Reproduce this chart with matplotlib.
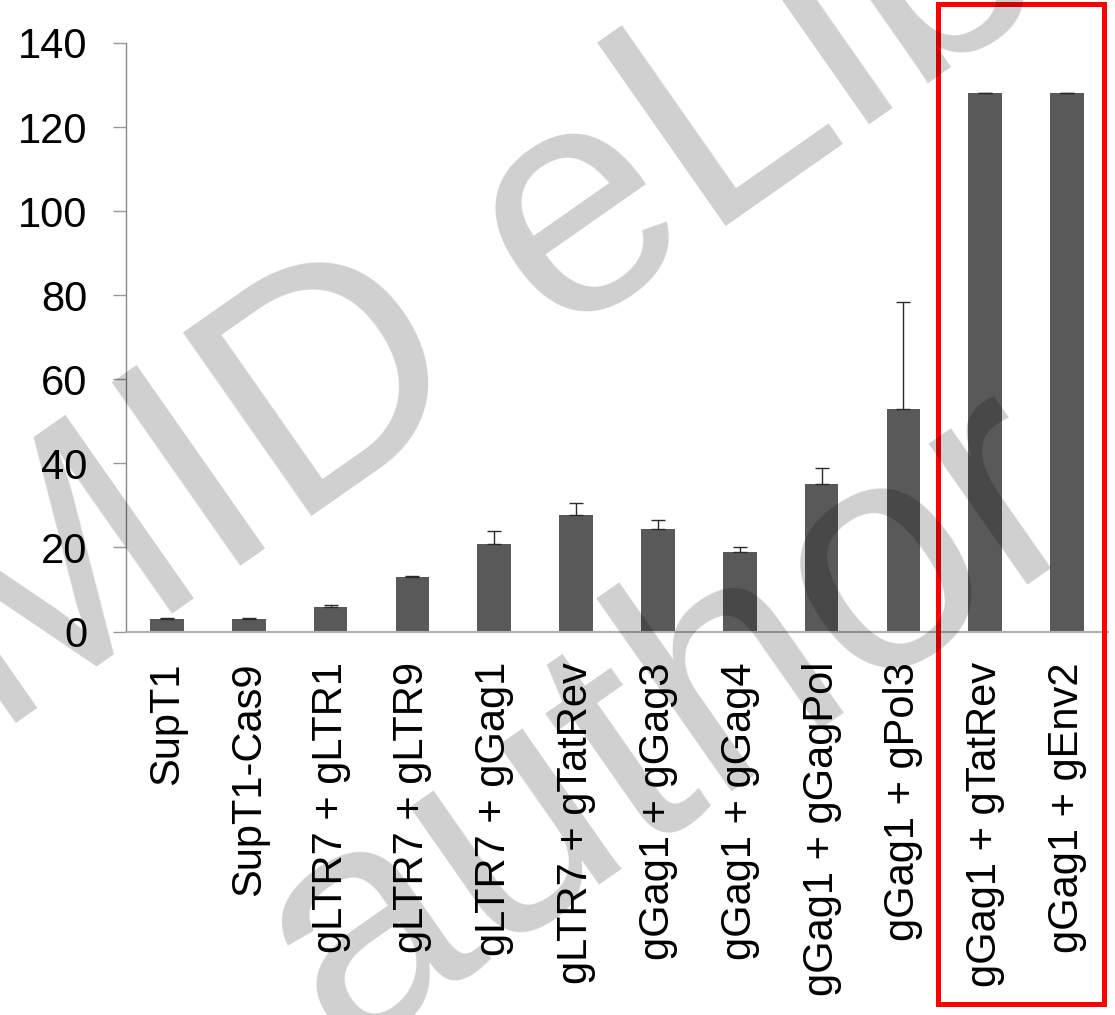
import matplotlib
matplotlib.use("Agg")
import matplotlib.pyplot as plt
from matplotlib.patches import Rectangle

# data
categories = ["SupT1", "SupT1-Cas9", "gLTR7 + gLTR1", "gLTR7 + gLTR9",
              "gLTR7 + gGag1", "gLTR7 + gTatRev", "gGag1 + gGag3",
              "gGag1 + gGag4", "gGag1 + gGagPol", "gGag1 + gPol3",
              "gGag1 + gTatRev", "gGag1 + gEnv2"]
values = [2.9, 2.9, 5.9, 13.0, 20.8, 27.6, 24.4, 19.0, 35.1, 52.9, 128.0, 128.0]
errors = [0.4, 0.4, 0.5, 0.3, 3.1, 3.0, 2.1, 1.0, 3.7, 25.5, 0.2, 0.2]
yticks = [0, 20, 40, 60, 80, 100, 120, 140]

plt.rcParams['font.family'] = ['Liberation Sans', 'DejaVu Sans']

W, H = 1115, 1015
fig = plt.figure(figsize=(W / 100, H / 100), dpi=100)
ax = fig.add_axes([126 / W, 1 - 631.5 / H, (1108 - 126) / W, (631.5 - 43) / H])

x = range(len(categories))
ax.bar(x, values, width=0.41, color='#595959', zorder=2)
ax.errorbar(x, values, yerr=[[0] * len(errors), errors], fmt='none',
            ecolor='#2b2b2b', elinewidth=1.0, capsize=4.7, capthick=1.0, zorder=3)

ax.set_xlim(-0.5, len(categories) - 0.5)
ax.set_ylim(0, 140)
ax.set_yticks(yticks)
ax.set_xticks(list(x))
ax.set_xticklabels(categories, rotation=90, fontsize=30)
ax.tick_params(axis='y', labelsize=30, length=9.4, width=1, color='#999999', pad=18.5)
ax.tick_params(axis='x', length=0, pad=22)
for s in ['top', 'right']:
    ax.spines[s].set_visible(False)
ax.spines['left'].set_color('#888888')
ax.spines['bottom'].set_color('#b0b0b0')
ax.spines['left'].set_linewidth(1)
ax.spines['bottom'].set_linewidth(1.5)

# red box round the last two groups
fig.patches.append(Rectangle((938 / W, 1 - 1004 / H), (1104 - 938) / W, (1004 - 4) / H,
                             transform=fig.transFigure, fill=False,
                             edgecolor='#ff0000', linewidth=3.6, zorder=5))

# watermark
fig.text(-5 / W, 1 - 738 / H, "MID eLibrary", fontsize=234, rotation=35,
         rotation_mode='anchor', ha='left', va='baseline',
         color='black', alpha=0.19, zorder=10)
fig.text(342 / W, 1 - 1056 / H, "author", fontsize=234, rotation=35,
         rotation_mode='anchor', ha='left', va='baseline',
         color='black', alpha=0.19, zorder=10)

fig.savefig("out.png", dpi=100)
